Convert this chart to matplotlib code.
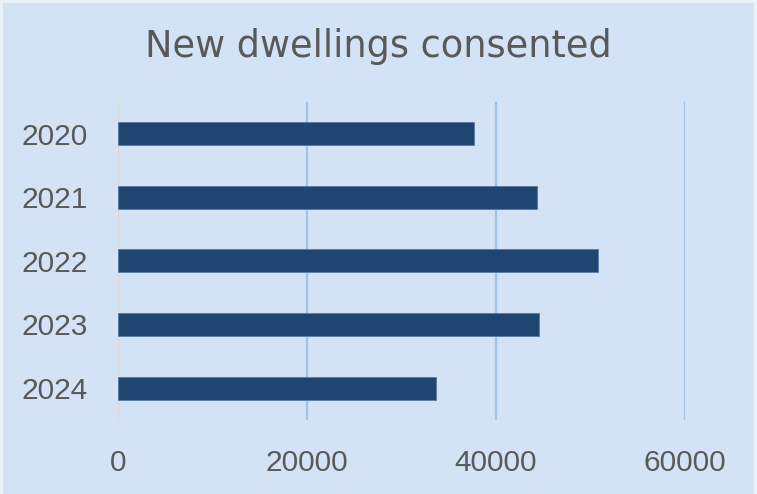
import matplotlib
matplotlib.use("Agg")
import matplotlib.pyplot as plt
from matplotlib.patches import Rectangle

# Dwellings consented per year
years = ["2020", "2021", "2022", "2023", "2024"]
dwellings = [37650, 44360, 50770, 44570, 33640]
x_ticks = [0, 20000, 40000, 60000]

bg = "#d3e3f5"
border = "#e9f2fb"
bar_color = "#1f4571"
text_color = "#595959"

fig = plt.figure(figsize=(7.57, 4.94), dpi=100, facecolor=border)
# chart area inside a thin pale frame
fig.patches.append(Rectangle((3 / 757, 0), 751 / 757, 491 / 494,
                             transform=fig.transFigure, facecolor=bg,
                             edgecolor="none", zorder=-10))

ax = fig.add_axes([0.156, 0.150, 0.749, 0.644])
ax.set_facecolor(bg)

pos = list(range(len(years)))
ax.barh(pos, dwellings, height=0.36, color=bar_color,
        edgecolor="#5a7aa3", linewidth=0.6, zorder=3)
ax.set_ylim(len(years) - 0.5, -0.5)
ax.set_xlim(0, 60000)

ax.set_yticks(pos)
ax.set_yticklabels(years, fontfamily="Liberation Sans", fontsize=21.5, color=text_color)
ax.set_xticks(x_ticks)
ax.set_xticklabels([str(t) for t in x_ticks], fontfamily="Liberation Sans",
                   fontsize=21.5, color=text_color)
ax.tick_params(axis="y", length=0, pad=21.5)
ax.tick_params(axis="x", length=0, pad=21)

# vertical gridlines, with a grey line at zero
for t in x_ticks[1:]:
    ax.axvline(t, color="#9fc4e8", linewidth=1.6, zorder=1)
ax.axvline(0, color="#d9d9d9", linewidth=1.6, zorder=2)

for s in ax.spines.values():
    s.set_visible(False)

fig.text(0.5, 0.905, "New dwellings consented", ha="center", va="center",
         fontfamily="DejaVu Sans", fontsize=26.5, color=text_color)

fig.savefig("out.png", dpi=100, facecolor=border)
